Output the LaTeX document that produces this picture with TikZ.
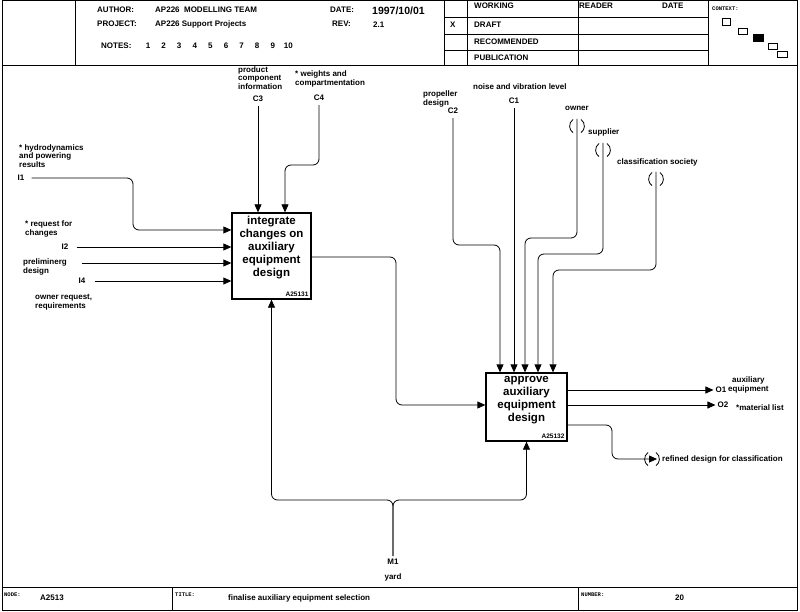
\documentclass[tikz,border=0pt]{standalone}
\usepackage{fontspec}
\setmainfont{Liberation Sans}
\setmonofont{Liberation Mono}
\usepackage{tikz}
\usetikzlibrary{arrows.meta}
\usetikzlibrary{calc}

\tikzset{
  lbl/.style={font=\fontsize{8}{8.5}\selectfont\bfseries, inner sep=0pt, align=left},
  hdr/.style={font=\fontsize{8}{9}\selectfont\bfseries, inner sep=0pt, anchor=west},
  tag/.style={font=\ttfamily\fontsize{5.5}{6}\selectfont\bfseries, inner sep=0pt, anchor=west},
  func/.style={draw, line width=1.3pt, inner sep=0pt},
  functxt/.style={font=\fontsize{11.5}{13}\selectfont\bfseries, align=center, inner sep=1pt},
  numtag/.style={font=\fontsize{6.5}{7}\selectfont\bfseries, inner sep=0pt},
  flow/.style={line width=0.8pt, rounded corners=6pt, -{Triangle[length=8pt,width=7pt]}},
  pipe/.style={line width=0.8pt, rounded corners=6pt},
  tunnelmark/.pic={
    \draw[line width=0.8pt] (-4,-6.5) arc[start angle=235, end angle=125, radius=8];
    \draw[line width=0.8pt] (4,-6.5) arc[start angle=-55, end angle=55, radius=8];
  }
}

\begin{document}
\begin{tikzpicture}[x=1pt, y=-1pt]
\useasboundingbox (0,0) rectangle (800,612);

% form frame
\draw[line width=1pt] (2,1) rectangle (797,610);
\draw[line width=1pt] (2,66)--(797,66);
\draw[line width=1pt] (2,587)--(797,587);
\foreach \xx in {75,444,467,578,708} \draw[line width=0.8pt] (\xx,1)--(\xx,66);
\foreach \yy in {17,34,50} \draw[line width=0.8pt] (444,\yy)--(708,\yy);
\draw[line width=0.8pt] (172,587)--(172,610);
\draw[line width=0.8pt] (578,587)--(578,610);

% header texts
\node[hdr] (author) at (97,10) {AUTHOR:};
\node[hdr] (team) at (155,10) {AP226\ \ MODELLING TEAM};
\node[hdr] (project) at (97,24) {PROJECT:};
\node[hdr] (projname) at (155,24) {AP226 Support Projects};
\node[hdr] (date) at (330,10) {DATE:};
\node[hdr, font=\fontsize{10.5}{11}\selectfont\bfseries] (dateval) at (372,11) {1997/10/01};
\node[hdr] (rev) at (332,24) {REV:};
\node[hdr] (revval) at (373,25) {2.1};
\node[hdr] (notes) at (101,46) {NOTES:};
\foreach \n [count=\k from 0] in {1,...,10}
  \node[hdr, anchor=center] (note\n) at (148+15.6*\k,46) {\n};
\node[hdr] (xmark) at (450,25) {X};
\node[hdr] (working) at (474,6) {WORKING};
\node[hdr] (draft) at (474,25) {DRAFT};
\node[hdr] (recom) at (474,42) {RECOMMENDED};
\node[hdr] (publ) at (474,58) {PUBLICATION};
\node[hdr] (reader) at (579,6) {READER};
\node[hdr] (rdate) at (662,6) {DATE};
\node[tag] (context) at (712,9) {CONTEXT:};
\draw[line width=0.6pt] (722,18) rectangle (730,25);
\draw[line width=0.6pt] (738,28) rectangle (747,34);
\draw[line width=0.6pt, fill=black] (753,34) rectangle (763,41);
\draw[line width=0.6pt] (768,43) rectangle (777,49);
\draw[line width=0.6pt] (777,51) rectangle (787,57);

% footer texts
\node[tag] (nodetag) at (4,595) {NODE:};
\node[hdr] (nodeval) at (40,598) {A2513};
\node[tag] (titletag) at (175,595) {TITLE:};
\node[hdr] (titleval) at (228,598) {finalise auxiliary equipment selection};
\node[tag] (numtag) at (581,595) {NUMBER:};
\node[hdr] (numval) at (675,598) {20};

% activity boxes
\node[func, minimum width=79pt, minimum height=86pt] (A1) at (271.5,256) {};
\node[functxt, anchor=north] (A1txt) at ([yshift=-3pt]A1.north) {integrate\\changes on\\auxiliary\\equipment\\design};
\node[numtag, anchor=south east] (A1num) at ([shift={(-3pt,3pt)}]A1.south east) {A25131};

\node[func, minimum width=81pt, minimum height=68pt] (A2) at (526.5,407) {};
\node[functxt, anchor=north] (A2txt) at ([yshift=-2.5pt]A2.north) {approve\\auxiliary\\equipment\\design};
\node[numtag, anchor=south east] (A2num) at ([shift={(-3pt,3pt)}]A2.south east) {A25132};

% inputs
\node[lbl, anchor=west] (hydro) at (19,156) {* hydrodynamics\\and powering\\results};
\node[lbl] (I1) at (21,178) {I1};
\node[lbl, anchor=west] (req) at (25,229) {* request for\\changes};
\node[lbl] (I2) at (65,247) {I2};
\node[lbl, anchor=west] (prelim) at (23,267) {preliminerg\\design};
\coordinate (i3) at (82,263);
\node[lbl] (I4) at (82,281) {I4};
\node[lbl, anchor=west] (ownreq) at (35,302) {owner request,\\requirements};

\draw[flow] ([xshift=7pt]I1.east) -- (133,178) -- (133,230) -- (A1.west |- 0,230);
\draw[flow] ([xshift=8pt]I2.east) -- (A1.west |- I2);
\draw[flow] (i3) -- (A1.west |- i3);
\draw[flow] ([xshift=9pt]I4.east) -- (A1.west |- I4);

% controls of A1
\node[lbl, anchor=west] (prodinfo) at (238,78) {product\\component\\information};
\node[lbl] (C3) at (258,99) {C3};
\node[lbl, anchor=west] (weights) at (295,79) {* weights and\\compartmentation};
\node[lbl] (C4) at (319,98) {C4};

\draw[flow] ([yshift=-4pt]C3.south) -- (C3 |- A1.north);
\draw[flow] ([yshift=-4pt]C4.south) -- (C4 |- 0,165) -- (285,165) -- (285,0 |- A1.north);

% A1 to A2
\draw[flow] (A1.east |- 0,257) -- (396,257) -- (396,405) -- (A2.west |- 0,405);

% controls of A2
\node[lbl, anchor=west] (prop) at (423,99) {propeller\\design};
\node[lbl] (C2) at (453,111) {C2};
\node[lbl, anchor=west] (noise) at (473,87) {noise and vibration level};
\node[lbl] (C1) at (514,101) {C1};
\node[lbl] (owner) at (577,108) {owner};
\node[lbl, anchor=west] (supplier) at (588,132) {supplier};
\node[lbl, anchor=west] (classif) at (617,162) {classification society};
\coordinate (towner) at (577,119);
\coordinate (tsupp) at (603,143);
\coordinate (tclass) at (656,172);
\pic at (577,126) {tunnelmark};
\pic at (603,150) {tunnelmark};
\pic at (656,179) {tunnelmark};

\draw[flow] ([yshift=-4pt]C2.south) -- (C2 |- 0,245) -- (500,245) -- (500,0 |- A2.north);
\draw[flow] ([yshift=-4pt]C1.south) -- (C1 |- A2.north);
\draw[flow] (towner) -- (577,238) -- (525,238) -- (525,0 |- A2.north);
\draw[flow] (tsupp) -- (603,254) -- (538,254) -- (538,0 |- A2.north);
\draw[flow] (tclass) -- (656,270) -- (553,270) -- (553,0 |- A2.north);

% outputs
\node[lbl] (O1) at (721,390) {O1};
\node[lbl, anchor=west, align=center] (auxeq) at (728,385) {auxiliary\\equipment};
\node[lbl] (O2) at (723,405) {O2};
\node[lbl, anchor=west] (matlist) at (736,408) {*material list};
\node[lbl, anchor=west] (refined) at (662,459) {refined design for classification};

\draw[flow] (A2.east |- 0,390) -- ([xshift=-2pt]O1.west);
\draw[flow] (A2.east |- 0,405) -- ([xshift=-2pt]O2.west);
\draw[flow] (A2.east |- 0,425) -- (612,425) -- (612,459) -- ([xshift=-5pt]refined.west);
\pic at ([xshift=-10pt]refined.west) {tunnelmark};

% mechanism
\node[lbl] (M1) at (393,562) {M1};
\node[lbl] (yard) at (393,577) {yard};
\coordinate (mj) at (393,500);
\draw[flow] ([yshift=3pt]M1.north) -- (mj) -- (A1.south |- mj) -- (A1.south);
\draw[flow] ([yshift=3pt]M1.north) -- (mj) -- (A2.south |- mj) -- (A2.south);

\end{tikzpicture}
\end{document}
